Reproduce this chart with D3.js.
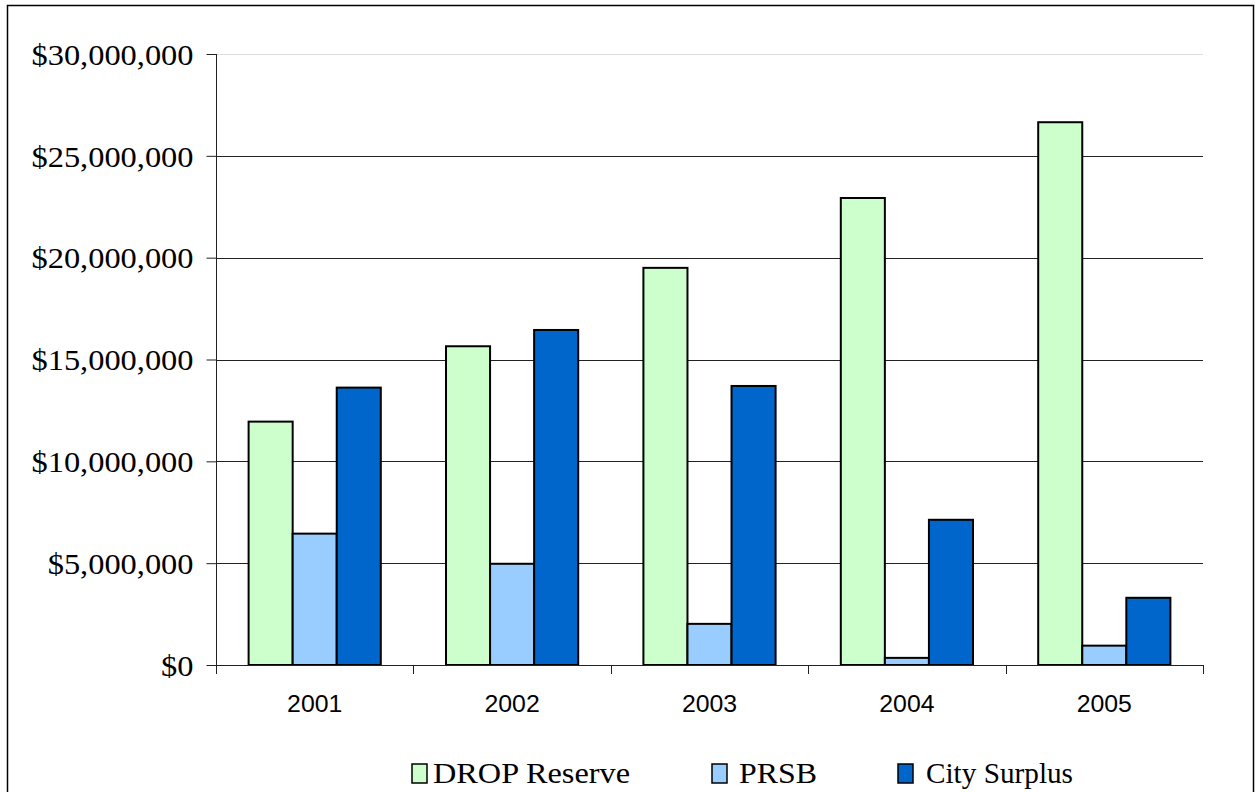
<!DOCTYPE html>
<html>
<head>
<meta charset="utf-8">
<script src="https://cdn.jsdelivr.net/npm/d3@7"></script>
<style>
  body { margin: 0; background: #fff; }
  .ylab { font-family: "Liberation Serif", "Times New Roman", serif; font-size: 30px; }
  .xlab { font-family: "Liberation Sans", Arial, sans-serif; font-size: 23px; }
  .leg  { font-family: "Liberation Serif", "Times New Roman", serif; font-size: 30px; }
</style>
</head>
<body>
<div id="chart"></div>
<script>
// data
const years = ["2001", "2002", "2003", "2004", "2005"];
const seriesNames = ["DROP Reserve", "PRSB", "City Surplus"];
const dropReserve = [11950000, 15650000, 19500000, 22930000, 26650000];
const prsb = [6450000, 4970000, 2020000, 350000, 950000];
const citySurplus = [13620000, 16450000, 13700000, 7130000, 3300000];
const yTicks = [0, 5000000, 10000000, 15000000, 20000000, 25000000, 30000000];
const colors = ["#CCFFCC", "#99CCFF", "#0066CC"];

const width = 1255, height = 792;
const plot = {left: 216, right: 1203, top: 54, bottom: 665};
const sx = 1.08; // the source picture is a bit stretched horizontally

const svg = d3.select("#chart").append("svg")
  .attr("width", width)
  .attr("height", height);

// outer frame
svg.append("rect")
  .attr("x", 7.5).attr("y", 5.5)
  .attr("width", 1246).attr("height", 820)
  .attr("fill", "none").attr("stroke", "#000").attr("stroke-width", 1.5);

const y = d3.scaleLinear().domain([0, 30000000]).range([plot.bottom, plot.top]);
const x0 = d3.scaleBand().domain(years).range([plot.left, plot.right]);
const x1 = d3.scaleBand().domain(seriesNames).range([0, x0.bandwidth()])
  .paddingInner(0).paddingOuter(0.74);

// gridlines
svg.selectAll(".grid")
  .data(yTicks.slice(1))
  .enter()
  .append("line")
  .attr("x1", plot.left).attr("x2", plot.right)
  .attr("y1", d => Math.round(y(d)) + 0.5)
  .attr("y2", d => Math.round(y(d)) + 0.5)
  .attr("stroke", d => d === 30000000 ? "#ddd" : "#222")
  .attr("stroke-width", 1.2);

// y axis
const yAxis = d3.axisLeft(y)
  .tickValues(yTicks)
  .tickSize(10)
  .tickFormat(d => "$" + d3.format(",")(d));
const gy = svg.append("g")
  .attr("transform", `translate(${plot.left + 0.5},0)`)
  .call(yAxis);
gy.select(".domain").attr("stroke", "#222").attr("d", `M0,${plot.top}V${plot.bottom}`);
gy.selectAll(".tick line").attr("stroke", "#222");
gy.selectAll(".tick text")
  .attr("class", "ylab")
  .attr("fill", "#000")
  .attr("font-family", null).attr("font-size", null)
  .attr("x", -23 / sx)
  .attr("dy", "0.34em")
  .attr("transform", `scale(${sx},1)`);

// bars
const rows = years.map((yr, i) => ({
  year: yr,
  values: [dropReserve[i], prsb[i], citySurplus[i]]
}));

const groups = svg.selectAll(".grp")
  .data(rows)
  .enter()
  .append("g")
  .attr("transform", d => `translate(${x0(d.year)},0)`);

groups.selectAll("rect")
  .data(d => d.values.map((v, j) => ({name: seriesNames[j], v: v, j: j})))
  .enter()
  .append("rect")
  .attr("x", d => x1(d.name))
  .attr("y", d => y(d.v))
  .attr("width", x1.bandwidth())
  .attr("height", d => plot.bottom - y(d.v))
  .attr("fill", d => colors[d.j])
  .attr("stroke", "#000")
  .attr("stroke-width", 2);

// x axis
const xTickPos = years.map(yr => x0(yr)).concat([plot.right]);
svg.append("line")
  .attr("x1", plot.left).attr("x2", plot.right)
  .attr("y1", plot.bottom + 0.5).attr("y2", plot.bottom + 0.5)
  .attr("stroke", "#222").attr("stroke-width", 1.2);
svg.selectAll(".xtick")
  .data(xTickPos)
  .enter()
  .append("line")
  .attr("x1", d => Math.round(d) + 0.5).attr("x2", d => Math.round(d) + 0.5)
  .attr("y1", plot.bottom).attr("y2", plot.bottom + 9)
  .attr("stroke", "#222");
svg.selectAll(".xlabtxt")
  .data(years)
  .enter()
  .append("text")
  .attr("class", "xlab")
  .attr("transform", d => `translate(${x0(d) + x0.bandwidth() / 2},712) scale(${sx},1)`)
  .attr("text-anchor", "middle")
  .text(d => d);

// legend
const swX = [412, 712, 898];
const txtX = [433, 739, 926];
const txtLen = [197, 78, 147];
const leg = svg.selectAll(".legitem")
  .data(seriesNames)
  .enter()
  .append("g");
leg.append("rect")
  .attr("x", (d, i) => swX[i]).attr("y", 764)
  .attr("width", 15).attr("height", 19)
  .attr("fill", (d, i) => colors[i])
  .attr("stroke", "#000").attr("stroke-width", 1.5);
leg.append("text")
  .attr("class", "leg")
  .attr("x", (d, i) => txtX[i]).attr("y", 783)
  .attr("textLength", (d, i) => txtLen[i])
  .attr("lengthAdjust", "spacingAndGlyphs")
  .text(d => d);
</script>
</body>
</html>
